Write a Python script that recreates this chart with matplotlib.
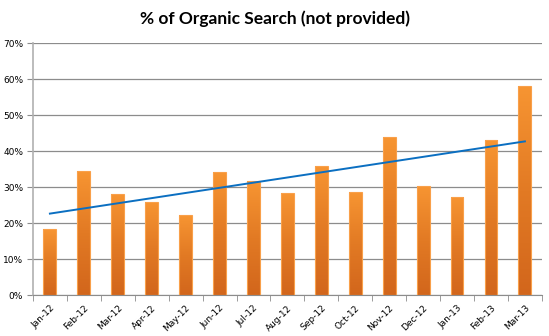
import numpy as np
import matplotlib
matplotlib.use('Agg')
import matplotlib.pyplot as plt
from matplotlib.colors import LinearSegmentedColormap

# Monthly share of organic search visits with "(not provided)" keyword
months = ['Jan-12', 'Feb-12', 'Mar-12', 'Apr-12', 'May-12', 'Jun-12', 'Jul-12', 'Aug-12',
          'Sep-12', 'Oct-12', 'Nov-12', 'Dec-12', 'Jan-13', 'Feb-13', 'Mar-13']
pct = [18.3, 34.5, 28.1, 26.0, 22.2, 34.1, 31.6, 28.3,
       35.9, 28.6, 43.9, 30.3, 27.3, 43.1, 58.1]
yticks = [0, 10, 20, 30, 40, 50, 60, 70]

fig = plt.figure(figsize=(5.49, 3.36), dpi=100)
ax = fig.add_axes([0.060, 0.122, 0.927, 0.749])

x = np.arange(len(months))
width = 0.38

# orange gradient, lighter at the top of each bar
cmap = LinearSegmentedColormap.from_list('org', ['#d2661c', '#e27a24', '#f79532'])
grad = np.linspace(0, 1, 256).reshape(-1, 1)
bars = ax.bar(x, pct, width, color='none', edgecolor='#f9a04a', linewidth=0.8, zorder=3)
for b in bars:
    x0, h = b.get_x(), b.get_height()
    im = ax.imshow(grad, extent=(x0, x0 + width, 0, h), origin='lower', cmap=cmap,
                   aspect='auto', zorder=2)
    im.set_clip_path(b)

# linear trendline
k, c = np.polyfit(x, pct, 1)
ax.plot(x, k * x + c, color='#0b6fc1', linewidth=1.4, zorder=4)

ax.set_xlim(-0.5, len(months) - 0.5)
ax.set_ylim(0, 70)
ax.set_yticks(yticks)
ax.set_yticklabels([f'{v}%' for v in yticks], fontsize=6.5)
ax.yaxis.grid(True, color='#8c8c8c', linewidth=0.9, zorder=0)
ax.set_axisbelow(True)

ax.set_xticks(x)
ax.set_xticklabels(months, rotation=45, ha='right', rotation_mode='anchor', fontsize=6.5)
ax.set_xticks(np.arange(-0.5, len(months)), minor=True)
ax.tick_params(axis='x', which='major', length=0, pad=6)
ax.tick_params(axis='x', which='minor', length=4, color='#8c8c8c', direction='out')
ax.tick_params(axis='y', length=4, color='#8c8c8c', pad=3)

for s in ['top', 'right']:
    ax.spines[s].set_visible(False)
ax.spines['left'].set_color('#b0b0b0')
ax.spines['left'].set_linewidth(1.2)
ax.spines['bottom'].set_color('#8c8c8c')

fig.text(0.5, 0.945, '% of Organic Search (not provided)', ha='center', va='center',
         fontsize=12.5, fontweight='bold', family='Lato')

fig.savefig('out.png', dpi=100)
